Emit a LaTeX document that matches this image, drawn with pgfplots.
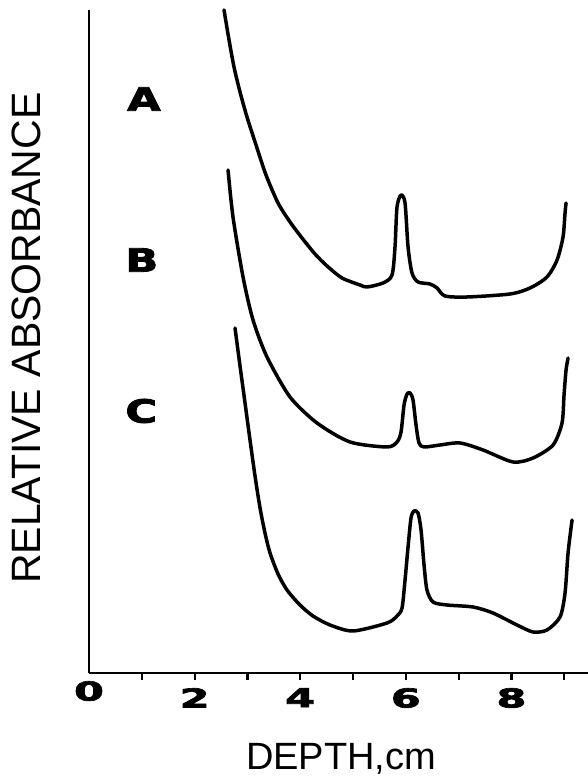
\documentclass[border=0pt]{standalone}
\usepackage{fontspec}
\setmainfont{Liberation Sans}
\newfontfamily\heavy{DejaVu Sans}[BoldFeatures={FakeBold=2.5}]
\usepackage{graphicx}
\usepackage{pgfplots}
\pgfplotsset{compat=1.18}
\newcommand{\dig}[1]{\scalebox{1.65}[1]{\fontsize{26bp}{26bp}\selectfont\heavy\bfseries #1}}
\newcommand{\lab}[1]{\scalebox{1.35}[1]{\fontsize{32bp}{32bp}\selectfont\heavy\bfseries #1}}
\begin{document}
\begin{tikzpicture}
\path[use as bounding box] (0,0) rectangle (588bp,784bp);
\begin{axis}[
  at={(89bp,111bp)}, anchor=south west,
  scale only axis, width=499bp, height=663bp,
  xmin=0, xmax=9.45, ymin=0, ymax=663,
  axis x line=bottom, axis y line=left,
  axis line style={-, line width=2.8bp},
  ytick=\empty,
  xtick={1,...,9},
  xticklabels={,\dig{2},,\dig{4},,\dig{6},,\dig{8},},
  extra x ticks={0},
  extra x tick labels={\dig{0}},
  extra x tick style={major tick length=0pt},
  tick align=outside,
  major tick length=7bp,
  every tick/.style={line width=2.2bp, black},
  xticklabel style={anchor=north, inner sep=0pt, yshift=-8bp},
  xlabel={\fontsize{38bp}{38bp}\selectfont DEPTH,cm},
  xlabel style={at={(axis description cs:0.505,-0.130)}, anchor=center},
  ylabel={\fontsize{41bp}{41bp}\selectfont RELATIVE ABSORBANCE},
  ylabel style={at={(axis description cs:-0.126,0.505)}, anchor=center},
  clip=false,
]
\addplot[black, line width=3.5bp, smooth, tension=0.45, line cap=round, line join=round] coordinates {
(2.557,663) (2.652,633) (2.746,606) (2.860,581) (2.992,556) (3.163,528) (3.352,498)
(3.580,470) (3.807,451) (4.034,435) (4.280,419) (4.508,407) (4.792,395) (5.133,388)
(5.265,386) (5.568,390) (5.739,398) (5.795,426) (5.833,466) (5.909,478)
(5.985,470) (6.042,426) (6.117,400) (6.231,391) (6.458,389) (6.591,385) (6.742,377)
(7.159,376) (7.973,379) (8.352,385) (8.674,396) (8.864,413) (8.977,436) (9.015,460) (9.034,470)
};
\addplot[black, line width=3.5bp, smooth, tension=0.45, line cap=round, line join=round] coordinates {
(2.633,503) (2.727,456) (2.917,396) (3.106,353) (3.371,316) (3.807,276) (4.318,250)
(4.943,231) (5.644,226) (5.833,231) (5.909,241) (5.966,268) (6.023,279) (6.08,280)
(6.136,273) (6.193,248) (6.25,230) (6.345,226) (6.648,228) (7.027,230) (7.462,223)
(8.03,211) (8.409,215) (8.788,228) (8.958,250) (8.996,278) (9.034,303) (9.072,315)
};
\addplot[black, line width=3.5bp, smooth, tension=0.45, line cap=round, line join=round] coordinates {
(2.765,345) (2.860,307) (2.955,270) (3.049,233) (3.144,197) (3.239,165) (3.333,140)
(3.428,120) (3.580,99) (3.750,83) (3.996,68) (4.242,57) (4.564,48) (5.0,42)
(5.644,50) (5.833,57) (5.928,65) (5.985,93) (6.042,126) (6.098,155)
(6.155,162) (6.231,160) (6.288,143) (6.345,108) (6.40,83) (6.515,71) (6.78,68)
(7.273,66) (7.65,60) (8.106,48) (8.409,41) (8.674,43) (8.92,56) (9.015,80) (9.072,120) (9.148,153)
};
\node at (axis cs:1.04,574) {\lab{A}};
\node at (axis cs:1.0,413) {\lab{B}};
\node at (axis cs:0.99,262) {\lab{C}};
\end{axis}
\end{tikzpicture}
\end{document}
